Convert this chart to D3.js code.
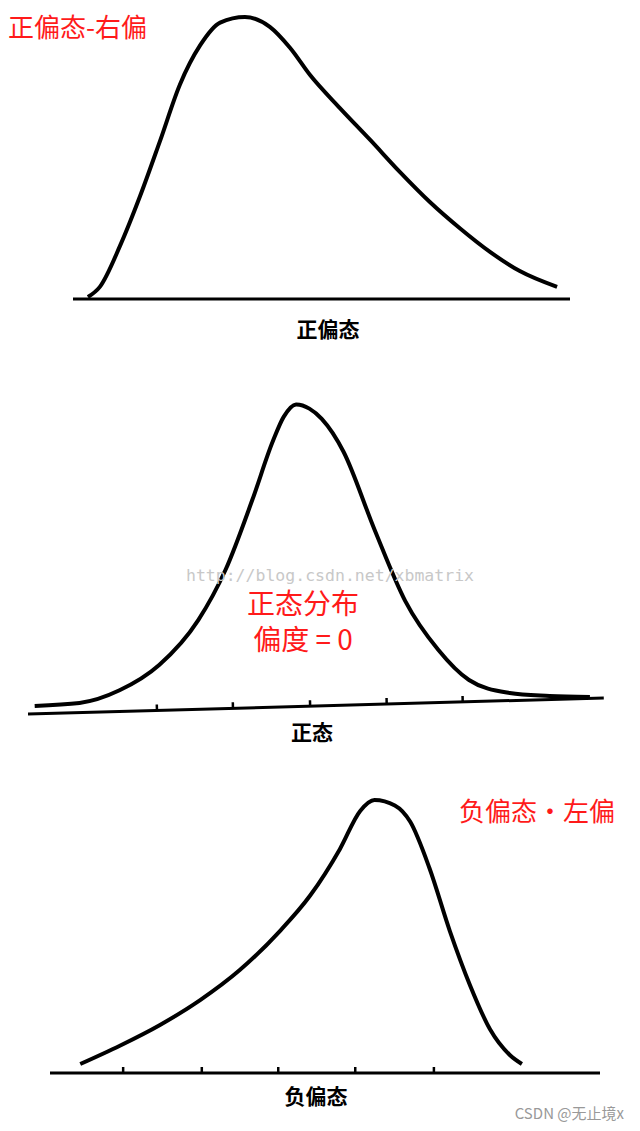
<!DOCTYPE html>
<html><head><meta charset="utf-8">
<script src="https://cdn.jsdelivr.net/npm/d3@7"></script>
<style>body{margin:0;background:#fff}</style></head>
<body><svg id="c" width="640" height="1131"></svg>
<script>
// Panel 1: positive skew
const skewRightX=[3,5.4,9.5,13.5,17.5,21.5,25.6,29.6,34.6,39.6,43.7,47.7,53.7,59.8,65.8,71.8,77.9,83.9,89.9,97.4];
const skewRightY=[0.7,4.3,19,36.5,56,76,90,98,100,96.5,89,79.4,67.7,56.4,45,34.4,25,16.7,9.9,4.3];
// Panel 2: normal
const normalX=[1.2,9,16,23,30,35,40,43.8,45.8,48,50.3,52.4,56,61,66,71.5,76.7,83.7,90.6,97.6];
const normalY=[2.6,3.2,7,15,29.5,46,69,88,96,100,98.5,95,84,58,34,17.5,7.2,2.5,1.2,0.5];
const normalTicks=[22.4,35.6,49,62.3,75.5];
// Panel 3: negative skew
const skewLeftX=[5.5,12.7,20,27.3,34.5,41.8,47.3,52.7,56.4,59,62.7,65.5,69,72.7,76.4,80,83.6,85.8];
const skewLeftY=[3.3,10,17.6,26.7,37.7,52,65,82,96,100,98,92,75,52,32,16,6.6,3.3];
const skewLeftTicks=[13.3,27.6,41.5,55.5,69.8];
const axisLabels=["正偏态","正态","负偏态"];
const redLabels=["正偏态-右偏","正态分布","偏度 = 0","负偏态·左偏"];

const svg=d3.select("#c");
function panel(g,x0,x1,base,top,xs,ys,ticks){
  const x=d3.scaleLinear().domain([0,100]).range([x0,x1]);
  const y=d3.scaleLinear().domain([0,100]).range([base,top]);
  g.append("line").attr("x1",x0).attr("x2",x1).attr("y1",base).attr("y2",base)
   .attr("stroke","#000").attr("stroke-width",3);
  ticks.forEach(t=>g.append("line").attr("x1",x(t)).attr("x2",x(t)).attr("y1",base).attr("y2",base-6)
   .attr("stroke","#000").attr("stroke-width",2.5));
  const line=d3.line().x((d,i)=>x(xs[i])).y(d=>y(d)).curve(d3.curveMonotoneX);
  g.append("path").attr("d",line(ys)).attr("fill","none").attr("stroke","#000").attr("stroke-width",4);
}
panel(svg.append("g"),73,570,299,17,skewRightX,skewRightY,[]);
panel(svg.append("g").attr("transform","rotate(-1.59,28,714)"),28,604,714,412,normalX,normalY,normalTicks);
panel(svg.append("g"),50,600,1073,800,skewLeftX,skewLeftY,skewLeftTicks);

const bl=[[328,337],[312,740],[316,1104]];
axisLabels.forEach((t,i)=>svg.append("text").attr("x",bl[i][0]).attr("y",bl[i][1]).attr("text-anchor","middle")
  .attr("font-family","Noto Sans CJK SC").attr("font-weight","bold").attr("font-size",21).text(t));
svg.append("text").attr("x",330).attr("y",581).attr("text-anchor","middle").attr("fill","#c8c8c8")
  .attr("font-family","DejaVu Sans Mono").attr("font-size",16.5).text("http://blog.csdn.net/xbmatrix");
const rl=[[8,37,"start",26],[303,614,"middle",28],[303,650,"middle",28],[537,821,"middle",26]];
redLabels.forEach((t,i)=>svg.append("text").attr("x",rl[i][0]).attr("y",rl[i][1]).attr("text-anchor",rl[i][2])
  .attr("fill","#ff1a1a").attr("font-family","Noto Sans CJK SC").attr("font-size",rl[i][3]).text(t));
svg.append("text").attr("x",624).attr("y",1119).attr("text-anchor","end").attr("fill","#999")
  .attr("font-family","Noto Sans CJK SC").attr("font-size",15).text("CSDN @无止境x");
</script></body></html>
